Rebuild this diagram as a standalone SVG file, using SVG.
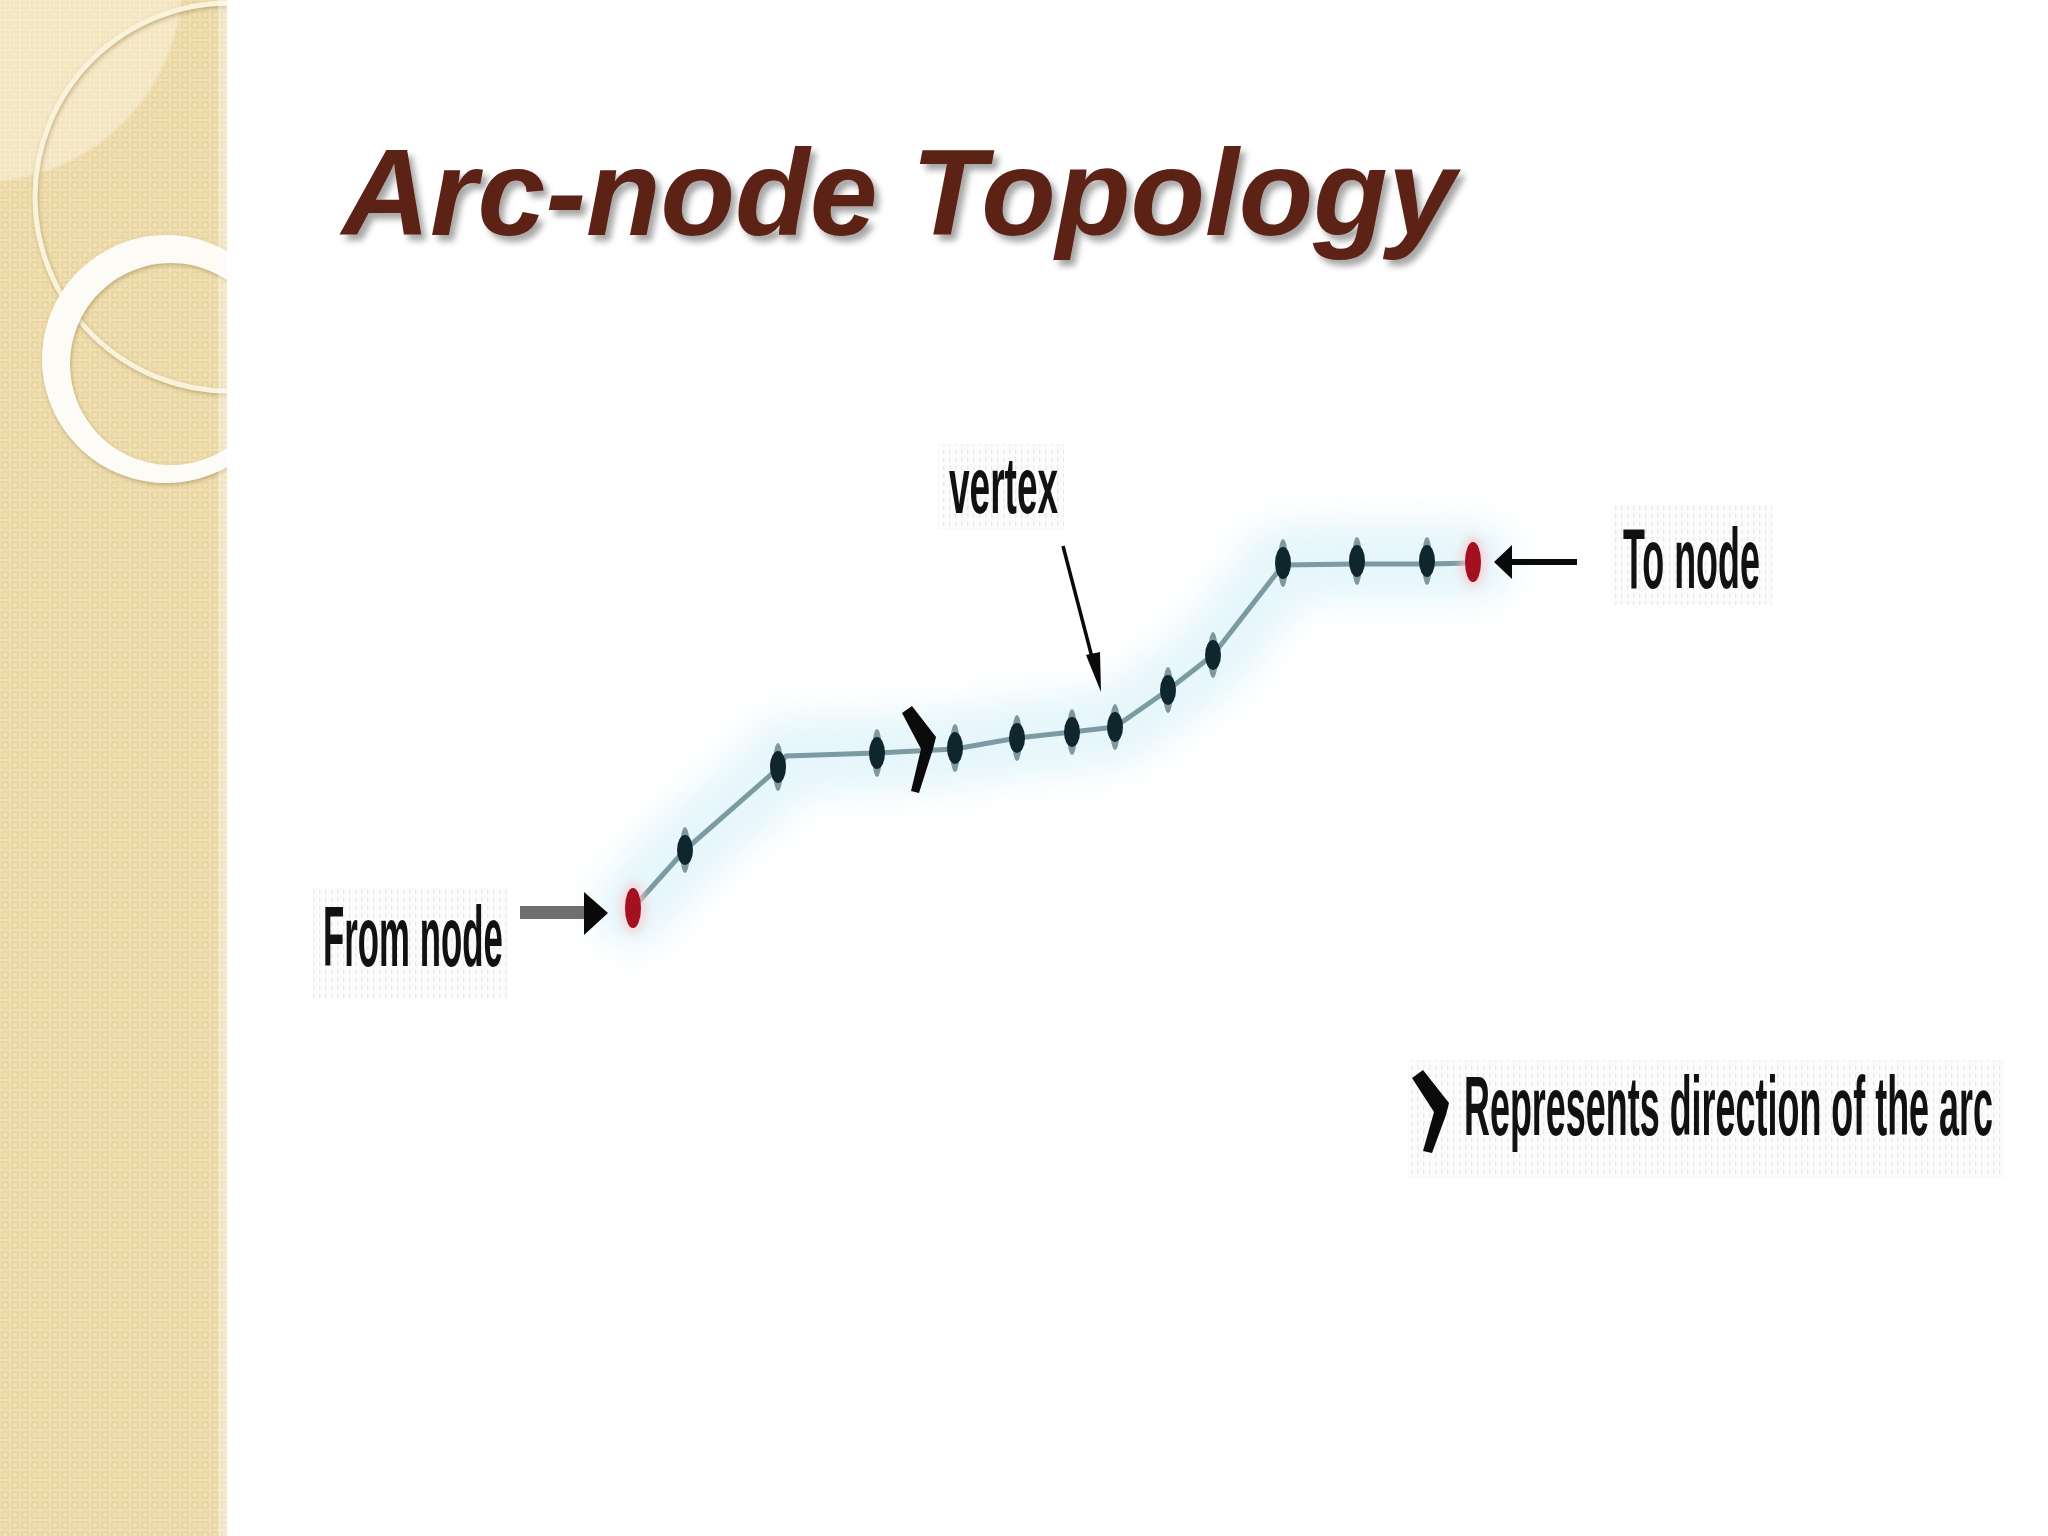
<svg xmlns="http://www.w3.org/2000/svg" width="2048" height="1536" viewBox="0 0 2048 1536">
<defs>
<pattern id="sq" x="0" y="0" width="10" height="10" patternUnits="userSpaceOnUse">
<rect width="10" height="10" fill="#f0dfb0"/>
<rect x="2" y="2" width="6" height="6" fill="none" stroke="#e6d19c" stroke-width="1.2"/>
</pattern>
<pattern id="speck" x="0" y="0" width="6" height="8" patternUnits="userSpaceOnUse">
<rect width="6" height="8" fill="#fbfbfb"/>
<rect x="1" y="1" width="1.5" height="5" fill="#e4e4e4"/>
</pattern>
<clipPath id="panel"><rect x="0" y="0" width="227" height="1536"/></clipPath>
<filter id="tshadow" x="-5%" y="-20%" width="115%" height="150%">
<feDropShadow dx="5" dy="6" stdDeviation="3" flood-color="#000" flood-opacity="0.35"/>
</filter>
<filter id="glow" x="-20%" y="-40%" width="140%" height="180%">
<feGaussianBlur stdDeviation="16"/>
</filter>
<filter id="soft" x="-50%" y="-50%" width="200%" height="200%">
<feGaussianBlur stdDeviation="4"/>
</filter>
<filter id="ringsh" x="-20%" y="-20%" width="140%" height="140%">
<feDropShadow dx="1" dy="2" stdDeviation="2" flood-color="#a08a55" flood-opacity="0.6"/>
</filter>
<style>
.lbl{font-family:"Liberation Sans",Arial,sans-serif;font-weight:bold;fill:#111;}
.vtx{fill:#10262f;}
.halo{fill:#2c4852;opacity:0.55;}
.nd{fill:#a3101f;}
.edge{fill:none;stroke:#7b9aa1;stroke-width:5;stroke-linejoin:round;}
</style>
</defs>

<rect width="2048" height="1536" fill="#ffffff"/>

<!-- left decorative panel -->
<g id="panel-bg" clip-path="url(#panel)">
<rect x="0" y="0" width="227" height="1536" fill="url(#sq)"/>
<circle cx="-20" cy="-20" r="202" fill="#fff8e6" opacity="0.45" stroke="#f6ecd0" stroke-width="2"/>
<circle cx="229" cy="197" r="194" fill="none" stroke="#faf3dc" stroke-width="5" filter="url(#ringsh)"/>
<path d="M166,235 A124,124 0 1,0 166.1,235 Z M171,263 A101,101 0 1,1 170.9,263 Z" fill="#fdfbf5" fill-rule="evenodd" filter="url(#ringsh)"/>
<rect x="218" y="0" width="9" height="1536" fill="#ffffff" opacity="0.35"/>
</g>

<!-- title -->
<text x="342" y="235" font-family="Liberation Sans,Arial,sans-serif" font-weight="bold" font-style="italic" font-size="122" fill="#5b2216" filter="url(#tshadow)">Arc-node Topology</text>

<!-- label backgrounds -->
<g id="label-bgs" opacity="0.7">
<rect x="313" y="888" width="196" height="110" fill="url(#speck)"/>
<rect x="938" y="444" width="126" height="86" fill="url(#speck)"/>
<rect x="1612" y="505" width="160" height="100" fill="url(#speck)"/>
<rect x="1408" y="1060" width="597" height="118" fill="url(#speck)"/>
</g>

<!-- glow behind arc -->
<polyline points="633,908 685,850 774,772 786,756 877,753 955,748 1017,738 1072,732 1115,727 1168,690 1213,655 1283,563 1357,561 1427,561 1473,562" fill="none" stroke="#dcf3f9" stroke-width="80" stroke-linejoin="round" stroke-linecap="round" filter="url(#glow)" opacity="0.7"/>

<!-- connectors -->
<g id="connectors">
<polyline id="arc" class="edge" points="633,908 685,850 774,772 786,756 877,753 955,749 1017,738 1072,732 1115,727 1168,690 1213,655 1283,565 1357,564 1427,564 1473,563"/>
<!-- direction mark on arc -->
<polygon id="dir-mark" points="902,713 912,706 936,737 933,749 919,793 911,791 921,749" fill="#0b0b0b"/>
<!-- from node arrow -->
<g id="from-arrow">
<rect x="520" y="906" width="68" height="13" fill="#6f6f6f"/>
<polygon points="584,892 608,913 584,935" fill="#0a0a0a"/>
</g>
<!-- to node arrow -->
<g id="to-arrow">
<line x1="1505" y1="562" x2="1577" y2="562" stroke="#0a0a0a" stroke-width="6"/>
<polygon points="1494,562 1512,545 1512,579" fill="#0a0a0a"/>
</g>
<!-- vertex pointer -->
<g id="vertex-arrow">
<line x1="1063" y1="546" x2="1094" y2="665" stroke="#0a0a0a" stroke-width="3.5"/>
<polygon points="1086,655 1100,652 1101,692" fill="#0a0a0a"/>
</g>
</g>

<!-- nodes -->
<g id="from-node">
<ellipse cx="633" cy="908" rx="13" ry="26" fill="#f8c9cf" filter="url(#soft)" opacity="0.7"/>
<ellipse class="nd" cx="633" cy="908" rx="8" ry="20"/>
</g>
<g id="vertex-1"><ellipse class="halo" cx="685" cy="850" rx="5" ry="23"/><ellipse class="vtx" cx="685" cy="850" rx="8" ry="15"/></g>
<g id="vertex-2"><ellipse class="halo" cx="778" cy="767" rx="5" ry="24"/><ellipse class="vtx" cx="778" cy="767" rx="8" ry="16"/></g>
<g id="vertex-3"><ellipse class="halo" cx="877" cy="753" rx="5" ry="24"/><ellipse class="vtx" cx="877" cy="753" rx="8" ry="16"/></g>
<g id="vertex-4"><ellipse class="halo" cx="955" cy="748" rx="5" ry="24"/><ellipse class="vtx" cx="955" cy="748" rx="8" ry="16"/></g>
<g id="vertex-5"><ellipse class="halo" cx="1017" cy="738" rx="5" ry="23"/><ellipse class="vtx" cx="1017" cy="738" rx="8" ry="15"/></g>
<g id="vertex-6"><ellipse class="halo" cx="1072" cy="732" rx="5" ry="23"/><ellipse class="vtx" cx="1072" cy="732" rx="8" ry="15"/></g>
<g id="vertex-7"><ellipse class="halo" cx="1115" cy="727" rx="5" ry="23"/><ellipse class="vtx" cx="1115" cy="727" rx="8" ry="15"/></g>
<g id="vertex-8"><ellipse class="halo" cx="1168" cy="690" rx="5" ry="23"/><ellipse class="vtx" cx="1168" cy="690" rx="8" ry="15"/></g>
<g id="vertex-9"><ellipse class="halo" cx="1213" cy="655" rx="5" ry="23"/><ellipse class="vtx" cx="1213" cy="655" rx="8" ry="15"/></g>
<g id="vertex-10"><ellipse class="halo" cx="1283" cy="563" rx="5" ry="24"/><ellipse class="vtx" cx="1283" cy="563" rx="8" ry="16"/></g>
<g id="vertex-11"><ellipse class="halo" cx="1357" cy="561" rx="5" ry="24"/><ellipse class="vtx" cx="1357" cy="561" rx="8" ry="16"/></g>
<g id="vertex-12"><ellipse class="halo" cx="1427" cy="561" rx="5" ry="24"/><ellipse class="vtx" cx="1427" cy="561" rx="8" ry="16"/></g>
<g id="to-node">
<ellipse cx="1473" cy="562" rx="13" ry="26" fill="#f8c9cf" filter="url(#soft)" opacity="0.7"/>
<ellipse class="nd" cx="1473" cy="562" rx="8" ry="20"/>
</g>

<!-- labels -->
<g id="label-from"><text class="lbl" transform="translate(323,966) scale(0.405,1)" font-size="86" textLength="444" lengthAdjust="spacingAndGlyphs">From node</text></g>
<g id="label-vertex"><text class="lbl" transform="translate(949,513) scale(0.462,1)" font-size="80" textLength="236" lengthAdjust="spacingAndGlyphs">vertex</text></g>
<g id="label-to"><text class="lbl" transform="translate(1623,588) scale(0.41,1)" font-size="86" textLength="334" lengthAdjust="spacingAndGlyphs">To node</text></g>

<!-- legend -->
<g id="legend">
<polygon points="1412,1078 1423,1070 1449,1103 1446,1115 1432,1153 1423,1151 1434,1112" fill="#0b0b0b"/>
<text class="lbl" transform="translate(1464,1135) scale(0.428,1)" font-size="84" textLength="1236" lengthAdjust="spacingAndGlyphs">Represents direction of the arc</text>
</g>
</svg>
